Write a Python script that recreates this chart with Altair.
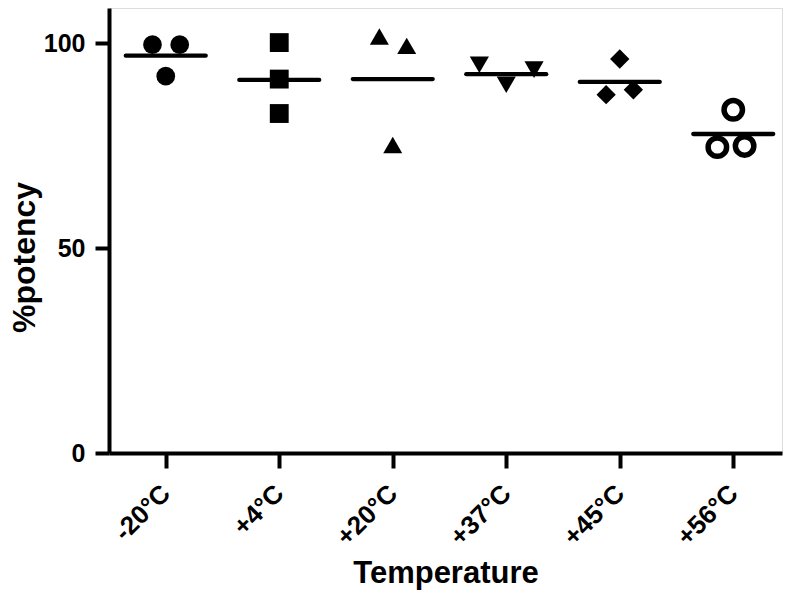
import json
import altair as alt
import pandas as pd

# ---- data ----
labels = ["-20°C", "+4°C", "+20°C", "+37°C", "+45°C", "+56°C"]

pot_m20 = [99.6, 99.6, 91.9]
pot_p4 = [100.1, 91.2, 82.8]
pot_p20 = [101.6, 99.3, 75.1]
pot_p37 = [94.7, 89.8, 93.5]
pot_p45 = [96.1, 87.4, 88.6]
pot_p56 = [83.7, 74.6, 74.9]

# horizontal scatter of the replicate points (in category units)
spread_m20 = [-0.117, 0.123, 0.0]
spread_p4 = [0.0, 0.0, 0.0]
spread_p20 = [-0.118, 0.123, 0.0]
spread_p37 = [-0.237, 0.0, 0.245]
spread_p45 = [0.0, -0.12, 0.12]
spread_p56 = [0.0, -0.14, 0.1]

# horizontal line (group mean)
mean_line = [96.9, 91.0, 91.2, 92.4, 90.5, 77.8]

potency = [pot_m20, pot_p4, pot_p20, pot_p37, pot_p45, pot_p56]
spread = [spread_m20, spread_p4, spread_p20, spread_p37, spread_p45, spread_p56]

rows = []
for i, (lab, vals, offs) in enumerate(zip(labels, potency, spread)):
    for v, o in zip(vals, offs):
        rows.append({"temp": lab, "pos": i + o, "potency": v})
pts = pd.DataFrame(rows)

means = pd.DataFrame({"temp": labels, "idx": list(range(len(labels))), "mean": mean_line})

FONT = "Liberation Sans"
STEP = 113.5
W, H = 673, 445
XMAX = -0.5 + W / STEP
YMAX = H / 4.1

filled_labels = labels[:5]
filled_shapes = ["circle", "square", "triangle-up", "triangle-down", "diamond"]
filled_sizes = [350, 373, 380, 380, 545]

label_expr = json.dumps(labels, ensure_ascii=False) + "[datum.value]"

xscale = alt.Scale(domain=[-0.5, XMAX], nice=False, zero=False)
yscale = alt.Scale(domain=[0, YMAX], nice=False, zero=True)

xaxis = alt.Axis(
    values=list(range(len(labels))),
    labelExpr=label_expr,
    labelAngle=-45,
    labelAlign="right",
    labelBaseline="middle",
    labelPadding=21,
    labelFontSize=26,
    labelFont=FONT,
    labelFontWeight="bold",
    labelColor="black",
    tickSize=15,
    tickWidth=4,
    tickColor="black",
    domainColor="black",
    domainWidth=4,
    grid=False,
    title="Temperature",
    titleFont=FONT,
    titleFontSize=31,
    titleFontWeight="bold",
    titleColor="black",
    titleBaseline="alphabetic",
    titleY=129,
)

yaxis = alt.Axis(
    values=[0, 50, 100],
    labelFontSize=25,
    labelFont=FONT,
    labelFontWeight="bold",
    labelColor="black",
    labelPadding=10,
    tickSize=14,
    tickWidth=4,
    tickColor="black",
    domainColor="black",
    domainWidth=4,
    grid=False,
    title="%potency",
    titleFont=FONT,
    titleFontSize=32,
    titleFontWeight="bold",
    titleColor="black",
    titleAngle=-90,
    titleAlign="center",
    titleBaseline="alphabetic",
    titleX=-75,
    titleY=249,
)

rules = (
    alt.Chart(means)
    .transform_calculate(x1="datum.idx - 0.352", x2="datum.idx + 0.352")
    .mark_rule(color="black", strokeWidth=4.3, strokeCap="round")
    .encode(
        x=alt.X("x1:Q", scale=xscale, axis=xaxis),
        x2="x2:Q",
        y=alt.Y("mean:Q", scale=yscale, axis=yaxis),
    )
)

base = alt.Chart(pts)

filled_pts = (
    base.transform_filter(alt.FieldOneOfPredicate(field="temp", oneOf=filled_labels))
    .mark_point(filled=True, opacity=1, color="black", strokeWidth=0)
    .encode(
        x=alt.X("pos:Q", scale=xscale, axis=xaxis),
        y=alt.Y("potency:Q", scale=yscale, axis=yaxis),
        shape=alt.Shape("temp:N", scale=alt.Scale(domain=filled_labels, range=filled_shapes), legend=None),
        size=alt.Size("temp:N", scale=alt.Scale(domain=filled_labels, range=filled_sizes), legend=None),
    )
)

open_pts = (
    base.transform_filter(alt.FieldEqualPredicate(field="temp", equal=labels[5]))
    .mark_point(filled=False, opacity=1, color="black", shape="circle", size=340, strokeWidth=5.5)
    .encode(
        x=alt.X("pos:Q", scale=xscale, axis=xaxis),
        y=alt.Y("potency:Q", scale=yscale, axis=yaxis),
    )
)

chart = (
    alt.layer(rules, filled_pts, open_pts)
    .resolve_scale(shape="independent", size="independent")
    .properties(
        width=W,
        height=H,
        autosize=alt.AutoSizeParams(type="none"),
        padding={"left": 101, "top": 0, "right": 2, "bottom": 137},
    )
    .configure_view(stroke=None)
    .configure(background="white")
)

chart.save("out.html", embed_options={"renderer": "svg", "actions": False})
